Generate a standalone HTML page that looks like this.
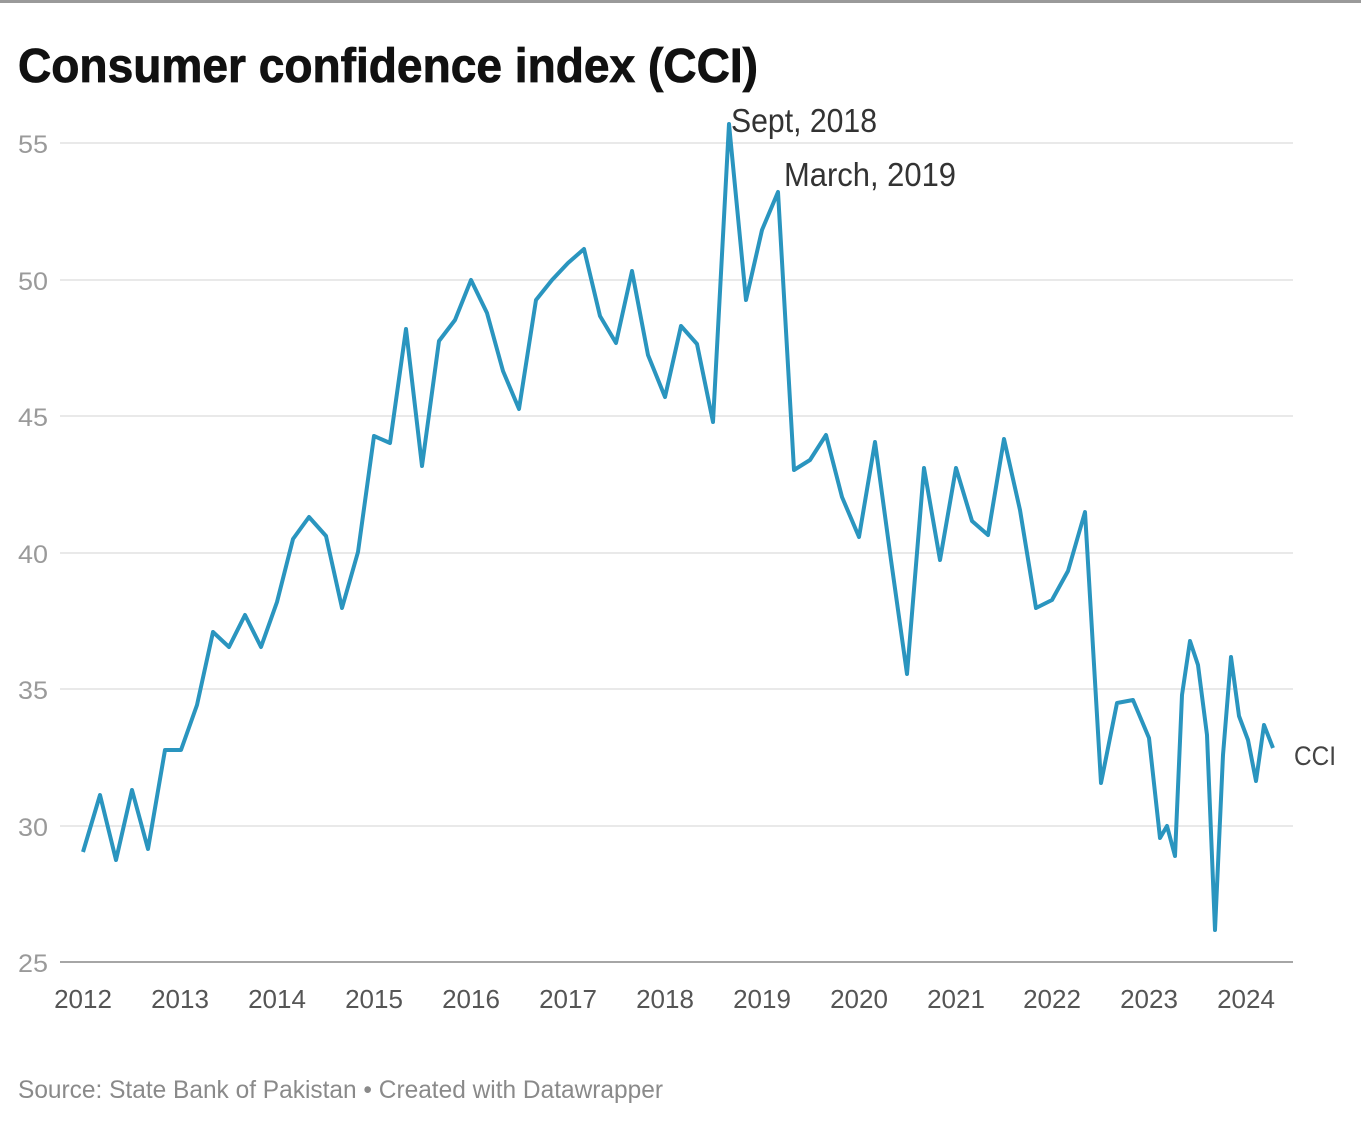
<!DOCTYPE html>
<html><head><meta charset="utf-8"><style>
html,body{margin:0;padding:0;background:#fff;}
svg{display:block;}
text{font-family:"Liberation Sans",sans-serif;}
</style></head><body>
<svg width="1361" height="1131" viewBox="0 0 1361 1131">
<rect x="0" y="0" width="1361" height="3" fill="#9a9a9a"/>
<text x="18" y="82" font-size="48" font-weight="bold" fill="#111" stroke="#111" stroke-width="0.8" textLength="740" lengthAdjust="spacingAndGlyphs">Consumer confidence index (CCI)</text>
<g stroke="#e2e2e2" stroke-width="1.5">
<line x1="60" x2="1293" y1="143" y2="143"/>
<line x1="60" x2="1293" y1="280" y2="280"/>
<line x1="60" x2="1293" y1="416" y2="416"/>
<line x1="60" x2="1293" y1="553" y2="553"/>
<line x1="60" x2="1293" y1="689" y2="689"/>
<line x1="60" x2="1293" y1="826" y2="826"/>
</g>
<line x1="60" x2="1293" y1="962" y2="962" stroke="#888" stroke-width="1.5"/>
<g font-size="25" fill="#9a9a9a">
<text x="18" y="153" textLength="30" lengthAdjust="spacingAndGlyphs">55</text>
<text x="18" y="290" textLength="30" lengthAdjust="spacingAndGlyphs">50</text>
<text x="18" y="426" textLength="30" lengthAdjust="spacingAndGlyphs">45</text>
<text x="18" y="563" textLength="30" lengthAdjust="spacingAndGlyphs">40</text>
<text x="18" y="699" textLength="30" lengthAdjust="spacingAndGlyphs">35</text>
<text x="18" y="836" textLength="30" lengthAdjust="spacingAndGlyphs">30</text>
<text x="18" y="972" textLength="30" lengthAdjust="spacingAndGlyphs">25</text>
</g>
<g font-size="26" fill="#555" text-anchor="middle">
<text x="83" y="1008">2012</text><text x="180" y="1008">2013</text><text x="277" y="1008">2014</text>
<text x="374" y="1008">2015</text><text x="471" y="1008">2016</text><text x="568" y="1008">2017</text>
<text x="665" y="1008">2018</text><text x="762" y="1008">2019</text><text x="859" y="1008">2020</text>
<text x="956" y="1008">2021</text><text x="1052" y="1008">2022</text><text x="1149" y="1008">2023</text>
<text x="1246" y="1008">2024</text>
</g>
<polyline fill="none" stroke="#2a95bf" stroke-width="4" stroke-linejoin="round" points="83,852 100,795 116,860 132,790 148,849 165,750 181,750 197,705 213,632 229,647 245,615 261,647 277,602 293,539 309,517 326,536 342,608 358,552 374,436 390,443 406,329 422,466 439,341 455,320 471,280 487,313 503,371 519,409 536,300 552,280 568,263 584,249 600,316 616,343 632,271 648,355 665,397 681,326 697,344 713,422 729,124 746,300 762,230 778,192 794,470 810,460 826,435 842,497 859,537 875,442 891,560 907,674 924,468 940,560 956,468 972,521 988,535 1004,439 1020,510 1036,608 1052,600 1068,571 1085,512 1101,783 1117,703 1133,700 1149,738 1160,838 1167,826 1175,856 1182,695 1190,641 1198,665 1207,735 1215,930 1223,755 1231,657 1239,716 1248,740 1256,781 1264,725 1273,748"/>
<text x="731" y="132" font-size="33" fill="#333" textLength="146" lengthAdjust="spacingAndGlyphs">Sept, 2018</text>
<text x="784" y="186" font-size="33" fill="#333" textLength="172" lengthAdjust="spacingAndGlyphs">March, 2019</text>
<text x="1294" y="765" font-size="27" fill="#444" textLength="42" lengthAdjust="spacingAndGlyphs">CCI</text>
<text x="18" y="1098" font-size="25" fill="#8a8a8a" textLength="645" lengthAdjust="spacingAndGlyphs">Source: State Bank of Pakistan  • Created with Datawrapper</text>
</svg>
</body></html>
